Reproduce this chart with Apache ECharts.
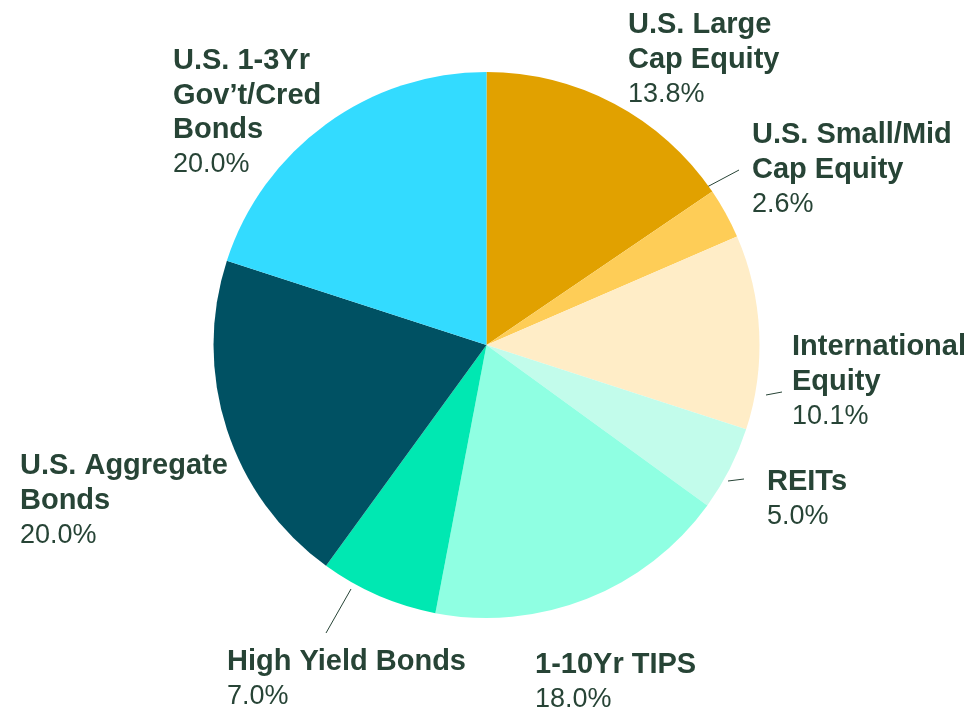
<!DOCTYPE html>
<html>
<head>
<meta charset="utf-8">
<script src="https://cdn.jsdelivr.net/npm/echarts@6/dist/echarts.min.js"></script>
<style>
  html, body { margin: 0; padding: 0; background: #fff; }
  #main { width: 980px; height: 710px; }
</style>
</head>
<body>
<div id="main"></div>
<script>
// slice names (line breaks as in the picture)
const names = [
    'U.S. Large\nCap Equity',
    'U.S. Small/Mid\nCap Equity',
    'International\nEquity',
    'REITs',
    '1-10Yr TIPS',
    'High Yield Bonds',
    'U.S. Aggregate\nBonds',
    'U.S. 1-3Yr\nGov\u2019t/Cred\nBonds'
];
// slice shares as drawn (angles)
const shares = [15.5, 3.0, 11.5, 5.0, 18.0, 7.0, 20.0, 20.0];
// percentages printed on the labels
const labelPcts = ['13.8%', '2.6%', '10.1%', '5.0%', '18.0%', '7.0%', '20.0%', '20.0%'];
const colors = ['#E1A100', '#FECD57', '#FFEDC7', '#C2FCEB', '#8FFFE2', '#00E8B2', '#005163', '#33DBFF'];

// label box top-left corners and leader lines (null = no line)
const labelPos = [
    [628, 8], [752, 118], [792, 330], [767, 465],
    [535, 648], [227, 645], [20, 449], [173, 44]
];
const leaders = [
    null,
    [[707, 187], [723, 178.5], [739, 170]],
    [[766, 395], [774, 393.5], [782, 392]],
    [[728, 481], [736, 480], [744, 479]],
    null,
    [[351, 589], [338.5, 611], [326, 633]],
    null,
    null
];

const textColor = '#274436';

let myChart = echarts.init(document.getElementById('main'));
myChart.setOption({
    animation: false,
    series: [{
        type: 'pie',
        center: [486.5, 345],
        radius: 273,
        startAngle: 90,
        clockwise: true,
        avoidLabelOverlap: false,
        itemStyle: { borderWidth: 0 },
        emphasis: { disabled: true },
        label: {
            show: true,
            position: 'outside',
            align: 'left',
            formatter: (p) => {
                let lines = p.name.split('\n').map(s => '{n|' + s + '}');
                return lines.join('\n') + '\n{p|' + labelPcts[p.dataIndex] + '}';
            },
            rich: {
                n: { fontFamily: 'Liberation Sans, Arial, sans-serif', fontWeight: 'bold', fontSize: 29, lineHeight: 34.5, color: textColor },
                p: { fontFamily: 'Liberation Sans, Arial, sans-serif', fontSize: 27, lineHeight: 34.5, color: textColor }
            }
        },
        labelLine: {
            show: true,
            lineStyle: { color: textColor, width: 1 }
        },
        labelLayout: (params) => {
            let i = params.dataIndex;
            let res = {
                x: labelPos[i][0],
                y: labelPos[i][1],
                align: 'left',
                verticalAlign: 'top'
            };
            if (leaders[i]) res.labelLinePoints = leaders[i];
            return res;
        },
        data: names.map((n, i) => ({
            name: n,
            value: shares[i],
            itemStyle: { color: colors[i] },
            labelLine: { show: !!leaders[i] }
        }))
    }]
});
</script>
</body>
</html>
